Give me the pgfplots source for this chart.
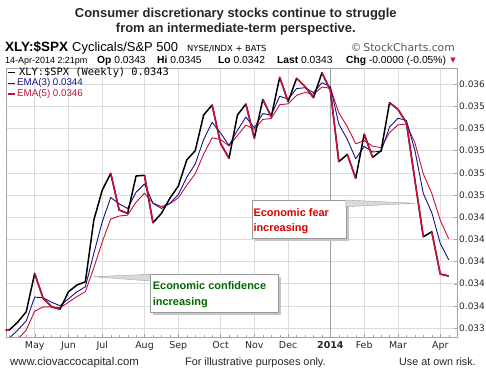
\documentclass[border=0pt]{standalone}
\usepackage{pgfplots}
\pgfplotsset{compat=1.18}
\usepackage{pgfplotstable}
\usepackage{fontspec}
\setmainfont{Liberation Sans}
\newfontfamily\dv{DejaVu Sans}
\newfontfamily\dvm{DejaVu Sans Mono}
\definecolor{crim}{RGB}{200,16,60}
\definecolor{navyc}{RGB}{20,20,130}
\definecolor{dgreen}{RGB}{0,105,0}
\definecolor{fred}{RGB}{220,0,0}
\definecolor{gridc}{RGB}{220,220,220}
\definecolor{framec}{RGB}{165,165,165}
\newcommand{\fs}[1]{\fontsize{#1}{#1}\selectfont}

% weekly close and EMAs (week index, Apr 2013 = 0 ... 14-Apr-2014 = 52)
\pgfplotstableread{
w c e3 e5
-1 0.033382 0.033238 0.033142
0 0.033382 0.033310 0.033222
1 0.033454 0.033382 0.033299
2 0.033547 0.033464 0.033382
3 0.033893 0.033679 0.033552
4 0.033668 0.033673 0.033591
5 0.033592 0.033633 0.033591
6 0.033569 0.033601 0.033584
7 0.033727 0.033664 0.033632
8 0.033788 0.033726 0.033684
9 0.033817 0.033772 0.033728
10 0.034374 0.034073 0.033944
11 0.034644 0.034359 0.034177
12 0.034795 0.034577 0.034383
13 0.034464 0.034520 0.034410
14 0.034434 0.034478 0.034418
15 0.034771 0.034624 0.034535
16 0.034777 0.034700 0.034615
17 0.034349 0.034525 0.034527
18 0.034434 0.034479 0.034496
19 0.034570 0.034524 0.034521
20 0.034680 0.034603 0.034574
21 0.034915 0.034759 0.034688
22 0.034999 0.034879 0.034791
23 0.035321 0.035100 0.034968
24 0.035411 0.035255 0.035116
25 0.035065 0.035160 0.035099
26 0.034930 0.035046 0.035043
27 0.035321 0.035183 0.035136
28 0.035420 0.035302 0.035230
29 0.035111 0.035206 0.035191
30 0.035462 0.035334 0.035281
31 0.035305 0.035320 0.035289
32 0.035661 0.035490 0.035413
33 0.035441 0.035465 0.035422
34 0.035652 0.035559 0.035498
35 0.035576 0.035567 0.035524
36 0.035477 0.035522 0.035508
37 0.035702 0.035612 0.035573
38 0.035542 0.035577 0.035562
39 0.034900 0.035238 0.035341
40 0.034966 0.035102 0.035216
41 0.034750 0.034926 0.035061
42 0.035149 0.035038 0.035091
43 0.034939 0.034988 0.035040
44 0.034999 0.034993 0.035027
45 0.035432 0.035212 0.035162
46 0.035372 0.035292 0.035232
47 0.035251 0.035272 0.035239
48 0.034735 0.035003 0.035071
49 0.034223 0.034613 0.034789
50 0.034268 0.034441 0.034615
51 0.033887 0.034164 0.034373
52 0.033869 0.034016 0.034205
}\data

\begin{document}
\begin{tikzpicture}
\useasboundingbox (0,0) rectangle (486bp,374bp);
\begin{axis}[
  at={(5.7bp,37.3bp)}, anchor=south west,
  scale only axis, width=451bp, height=268.4bp,
  xmin=-0.43, xmax=52.95, ymin=0.033322, ymax=0.035742,
  axis line style={framec},
  grid=major, major grid style={gridc},
  xtick={3,7,11,16,20,25,29,33,42,46,51},
  xticklabels={May,Jun,Jul,Aug,Sep,Oct,Nov,Dec,Feb,Mar,Apr},
  extra x ticks={38}, extra x tick labels={\textbf{2014}},
  extra x tick style={major grid style={color=gray!75}},
  minor xtick={0,...,52},
  xtick pos=bottom, tick align=inside,
  major tick length=3bp, minor tick length=2bp,
  tick style={framec},
  scaled y ticks=false,
  ytick={0.0334,0.0336,0.0338,0.0340,0.0342,0.0344,0.0346,0.0348,0.0350,0.0352,0.0354,0.0356},
  yticklabels={0.033,0.034,0.034,0.034,0.034,0.034,0.035,0.035,0.035,0.035,0.035,0.036},
  ytick pos=right, yticklabel pos=right,
  xticklabel style={font=\dv\fs{9.5}, text=black!85, yshift=-1.5bp},
  yticklabel style={font=\dv\fs{9}, text=black!85, xshift=-1bp},
]
\addplot[crim, line width=0.9bp, line join=round] table[x=w,y=e5]{\data};
\addplot[navyc, line width=0.9bp, line join=round] table[x=w,y=e3]{\data};
\addplot[black, line width=1.5bp, line join=round] table[x=w,y=c]{\data};
% falling weeks drawn in crimson
\addplot[crim, line width=1.5bp, line join=round, unbounded coords=jump] coordinates {
(-1,0.033382) (0,0.033382) (0.5,nan)
(3,0.033893) (4,0.033668) (5,0.033592) (6,0.033569) (6.5,nan)
(12,0.034795) (13,0.034464) (14,0.034434) (14.5,nan)
(16,0.034777) (17,0.034349) (17.5,nan)
(24,0.035411) (25,0.035065) (26,0.034930) (26.5,nan)
(28,0.035420) (29,0.035111) (29.5,nan)
(30,0.035462) (31,0.035305) (31.5,nan)
(32,0.035661) (33,0.035441) (33.5,nan)
(34,0.035652) (35,0.035576) (36,0.035477) (36.5,nan)
(37,0.035702) (38,0.035542) (39,0.034900) (39.5,nan)
(40,0.034966) (41,0.034750) (41.5,nan)
(42,0.035149) (43,0.034939) (43.5,nan)
(45,0.035432) (46,0.035372) (47,0.035251) (48,0.034735) (49,0.034223) (49.5,nan)
(50,0.034268) (51,0.033887) (52,0.033869)
};
\end{axis}

% title
\node[anchor=base, font=\bfseries\fs{13}, text=black!85] at (235.8bp,356.7bp) {Consumer discretionary stocks continue to struggle};
\node[anchor=base, font=\bfseries\fs{13}, text=black!85] at (235.8bp,341.7bp) {from an intermediate-term perspective.};

% header
\node[anchor=base west, inner sep=0, font=\bfseries\fs{13.5}] at (5bp,322.3bp) {XLY:\$SPX};
\node[anchor=base west, inner sep=0, font=\fs{13}] at (72bp,322.3bp) {Cyclicals/S\&P 500};
\node[anchor=base west, inner sep=0, font=\dv\fs{8.4}] at (187bp,322.3bp) {NYSE/INDX + BATS};
\node[anchor=base east, inner sep=0, font=\dv\fs{10.8}, text=black!65] at (455bp,322.3bp) {\textcopyright\,StockCharts.com};
\node[anchor=base west, inner sep=0, font=\fs{9}] at (5bp,310.7bp) {14-Apr-2014 2:21pm};
\node[anchor=base west, inner sep=0, font=\fs{10.3}] at (97bp,310.7bp) {\textbf{Op} 0.0343};
\node[anchor=base west, inner sep=0, font=\fs{10.3}] at (157bp,310.7bp) {\textbf{Hi} 0.0345};
\node[anchor=base west, inner sep=0, font=\fs{10.3}] at (218bp,310.7bp) {\textbf{Lo} 0.0342};
\node[anchor=base west, inner sep=0, font=\fs{10.3}] at (277bp,310.7bp) {\textbf{Last} 0.0343};
\node[anchor=base west, inner sep=0, font=\fs{10.3}] at (346bp,310.7bp) {\textbf{Chg} -0.0000 (-0.05\%)};
\node[anchor=base east, inner sep=0, font=\dv\fs{7}, text=crim] at (456bp,311.5bp) {▼};

% legend
\draw[black, line width=1.5bp] (8bp,301.7bp) -- (15bp,301.7bp);
\node[anchor=west, inner sep=0, font=\dvm\fs{10.4}] at (19bp,301.7bp) {XLY:\$SPX (Weekly) 0.0343};
\draw[navyc, line width=1.5bp] (8bp,290.7bp) -- (15bp,290.7bp);
\node[anchor=west, inner sep=0, font=\fs{9.8}, text=navyc] at (17bp,290.7bp) {EMA(3) 0.0344};
\draw[crim, line width=1.5bp] (8bp,280bp) -- (15bp,280bp);
\node[anchor=west, inner sep=0, font=\fs{9.8}, text=crim] at (17bp,280bp) {EMA(5) 0.0346};

% callout: confidence
\fill[gray!45] (153bp,58.7bp) rectangle (280.7bp,96.7bp);
\filldraw[fill=white, draw=gray!80] (150bp,61.7bp) rectangle (277.7bp,99.7bp);
\filldraw[fill=gray!30, draw=gray!70] (93.3bp,97.3bp) -- (150bp,99.7bp) -- (150bp,93bp) -- cycle;
\node[anchor=base west, inner sep=0, font=\bfseries\fs{11}, text=dgreen] at (152.7bp,84bp) {Economic confidence};
\node[anchor=base west, inner sep=0, font=\bfseries\fs{11}, text=dgreen] at (152.7bp,68.7bp) {increasing};

% callout: fear
\fill[gray!45] (254.7bp,132.7bp) rectangle (348.7bp,171bp);
\filldraw[fill=white, draw=gray!80] (251.7bp,135.7bp) rectangle (345.7bp,174bp);
\filldraw[fill=gray!30, draw=gray!70] (345.7bp,174bp) -- (415bp,170.7bp) -- (345.7bp,167.3bp) -- cycle;
\node[anchor=base west, inner sep=0, font=\bfseries\fs{11}, text=fred] at (253.3bp,157.3bp) {Economic fear};
\node[anchor=base west, inner sep=0, font=\bfseries\fs{11}, text=fred] at (253.3bp,142.3bp) {increasing};

% footer
\node[anchor=base west, inner sep=0, font=\fs{11.4}, text=black!85] at (10bp,9bp) {www.ciovaccocapital.com};
\node[anchor=base west, inner sep=0, font=\fs{10.9}, text=black!85] at (185bp,9bp) {For illustrative purposes only.};
\node[anchor=base west, inner sep=0, font=\fs{10.8}, text=black!85] at (399bp,9bp) {Use at own risk.};
\end{tikzpicture}
\end{document}
